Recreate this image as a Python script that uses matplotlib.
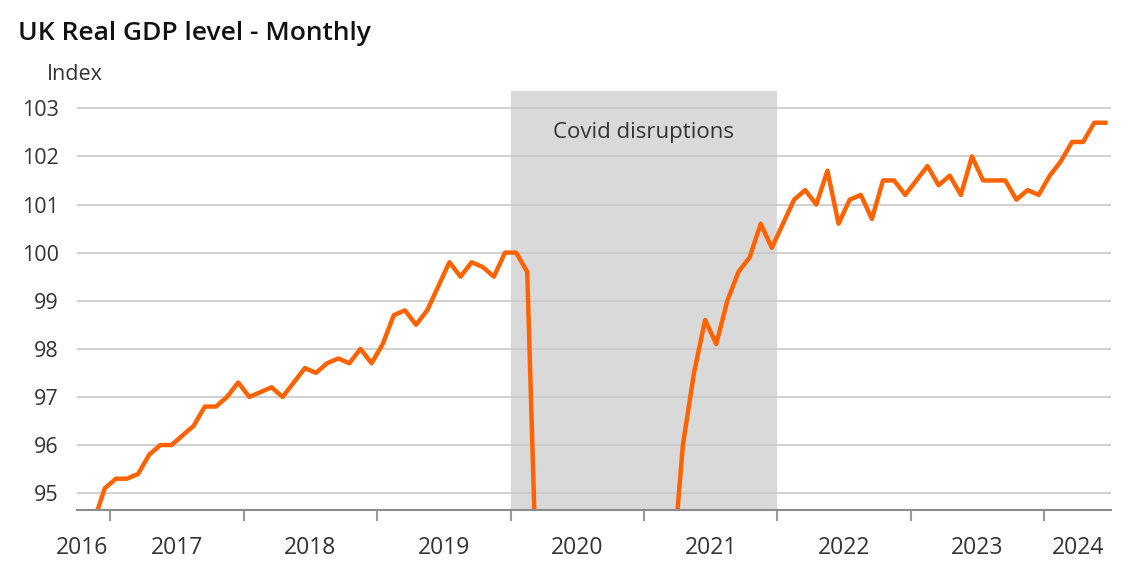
import numpy as np
import pandas as pd
import matplotlib
matplotlib.use("Agg")
import matplotlib.pyplot as plt

plt.rcParams["font.family"] = ["Open Sans", "DejaVu Sans"]

# monthly index, Oct 2016 - Jun 2024 (values under 94.65 fall off the chart)
months = pd.date_range("2016-10-01", "2024-06-01", freq="MS")
gdp = [
    94.2, 94.4, 95.1,
    95.3, 95.3, 95.4, 95.8, 96.0, 96.0, 96.2, 96.4, 96.8, 96.8, 97.0, 97.3,
    97.0, 97.1, 97.2, 97.0, 97.3, 97.6, 97.5, 97.7, 97.8, 97.7, 98.0, 97.7,
    98.1, 98.7, 98.8, 98.5, 98.8, 99.3, 99.8, 99.5, 99.8, 99.7, 99.5, 100.0,
    100.0, 99.6, 91.8, 74.9, 78.4, 85.0, 90.8, 92.8, 93.7, 94.3, 92.0, 93.1,
    90.3, 90.9, 93.2, 96.0, 97.5, 98.6, 98.1, 99.0, 99.6, 99.9, 100.6, 100.1,
    100.6, 101.1, 101.3, 101.0, 101.7, 100.6, 101.1, 101.2, 100.7, 101.5, 101.5, 101.2,
    101.5, 101.8, 101.4, 101.6, 101.2, 102.0, 101.5, 101.5, 101.5, 101.1, 101.3, 101.2,
    101.6, 101.9, 102.3, 102.3, 102.7, 102.7,
]
y_ticks = [95, 96, 97, 98, 99, 100, 101, 102, 103]
covid_start, covid_end = "2020-01", "2021-12"
title = "UK Real GDP level - Monthly"
unit = "Index"
shade_label = "Covid disruptions"

ORANGE = "#FF6200"
TEXT = "#333333"

x = np.arange(len(months))
years = months.year

fig = plt.figure(figsize=(11.4, 5.87), dpi=100)
ax = fig.add_axes([0.0675, 0.1312, 0.907, 0.7138])

# covid shading (category style: boundaries between months)
i0 = np.where(months == pd.Timestamp(covid_start))[0][0]
i1 = np.where(months == pd.Timestamp(covid_end))[0][0]
ax.axvspan(i0 - 0.5, i1 + 0.5, color="#d9d9d9", zorder=0, lw=0)
ax.text((i0 + i1) / 2, 102.5, shade_label, ha="center", va="center",
        fontsize=16, color=TEXT)

ax.plot(x, gdp, color=ORANGE, lw=3.2, zorder=3)

ax.set_xlim(-0.5, len(months) - 0.5)
ax.set_ylim(94.65, 103.36)

# y axis
ax.set_yticks(y_ticks)
ax.set_yticklabels([str(v) for v in y_ticks])
ax.tick_params(axis="y", length=0, pad=13, labelsize=15.5, labelcolor=TEXT)
for lab in ax.get_yticklabels():
    lab.set_horizontalalignment("right")
ax.grid(axis="y", color="#c8c8c8", lw=1.2)
ax.set_axisbelow(True)

# x axis: ticks at year boundaries, labels centred on each year
starts = [i for i in range(1, len(months)) if years[i] != years[i - 1]]
ax.set_xticks([s - 0.5 for s in starts])
ax.set_xticklabels([])
ax.tick_params(axis="x", which="major", length=8, width=1.5, color="#999999")
uniq = sorted(set(years))
label_pos = []
for yr in uniq:
    idx = np.where(years == yr)[0]
    label_pos.append((idx[0] + idx[-1]) / 2)
label_pos[0] = 0  # first partial year label sits left of the first tick
ax.set_xticks(label_pos, minor=True)
ax.set_xticklabels([str(y) for y in uniq], minor=True)
ax.tick_params(axis="x", which="minor", length=0, pad=19, labelsize=16.5,
               labelcolor=TEXT)

for s in ["top", "right", "left"]:
    ax.spines[s].set_visible(False)
ax.spines["bottom"].set_color("#8c8c8c")
ax.spines["bottom"].set_linewidth(1.5)
ax.spines["bottom"].set_zorder(4)

fig.text(0.0158, 0.932, title, fontsize=19, fontweight="semibold",
         color="#111111", va="baseline")
fig.text(0.0412, 0.8637, unit, fontsize=15.5, color=TEXT, va="baseline")

fig.savefig("out.png", dpi=100)
